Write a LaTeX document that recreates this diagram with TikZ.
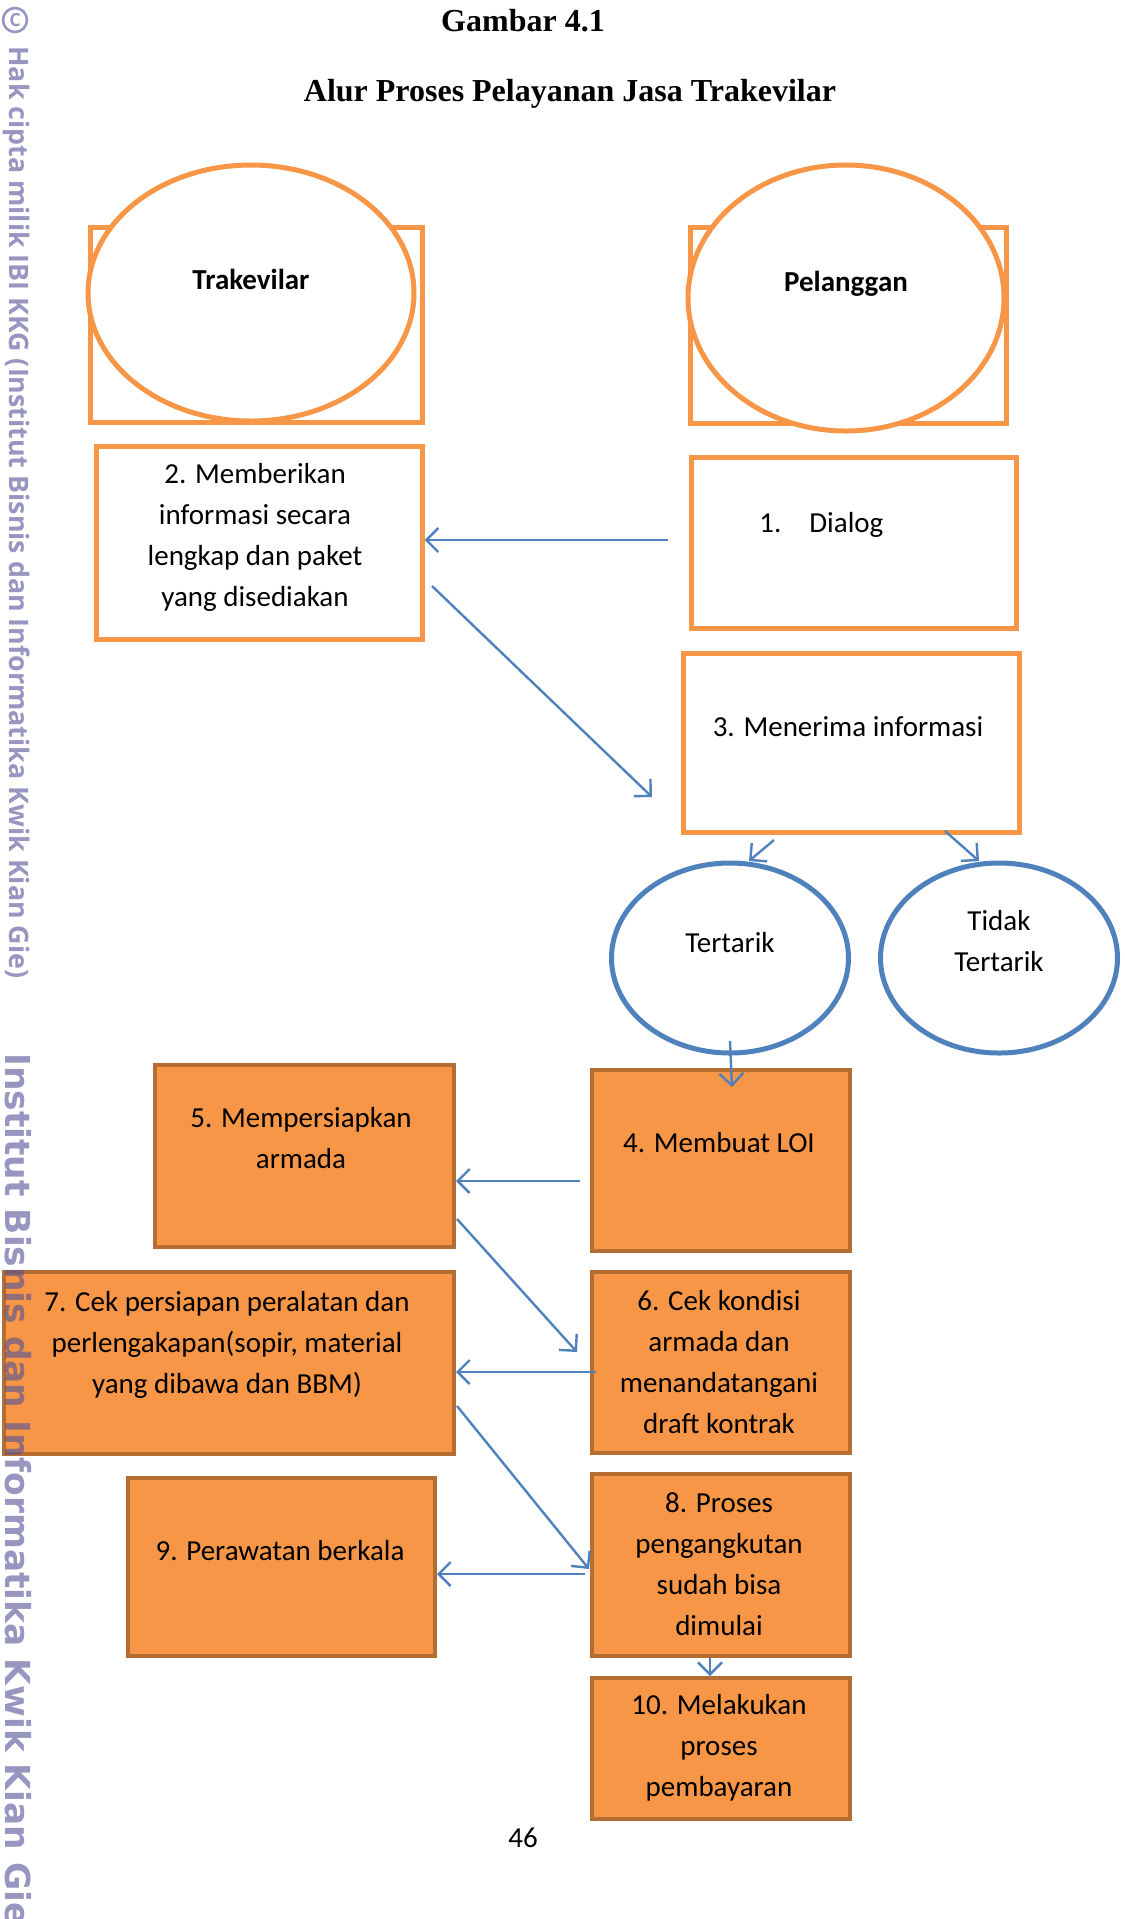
\documentclass[tikz,border=0pt]{standalone}
\usepackage{fontspec}
\setmainfont{Carlito}
\newfontfamily\serifb{Liberation Serif}
\newfontfamily\wmfont{Open Sans}
\newfontfamily\wmbold{DejaVu Sans}
\usetikzlibrary{arrows.meta,shapes.geometric}
\definecolor{org}{HTML}{F79646}
\definecolor{orgd}{HTML}{B66D31}
\definecolor{blu}{HTML}{4F81BD}
\definecolor{wm}{RGB}{80,80,150}
\begin{document}
\begin{tikzpicture}[x=0.5pt,y=-0.5pt,
  obox/.style={draw=org, line width=2.3pt, fill=white, inner sep=0pt, anchor=north west},
  fbox/.style={draw=orgd, line width=2pt, fill=org, inner sep=0pt, anchor=north west},
  oell/.style={ellipse, draw=org, line width=2.5pt, fill=white, inner sep=0pt},
  bell/.style={ellipse, draw=blu, line width=2.5pt, fill=white, inner sep=0pt},
  txt/.style={font=\fontsize{14.5}{20.5}\selectfont, align=center, inner sep=0pt},
  btxt/.style={font=\fontsize{14.5}{20.5}\selectfont\bfseries, inner sep=0pt},
  arr/.style={draw=blu, line width=1.2pt, -{Straight Barb[length=6pt,width=12pt,line width=1.2pt]}},
  wmstyle/.style={text=wm, text opacity=0.6, inner sep=0pt, rotate=-90, anchor=west},
]
\useasboundingbox (0,0) rectangle (1125,1919);

% titles
\node[font=\serifb\fontsize{16}{19}\selectfont\bfseries, inner sep=0pt] (g) at (523,21) {Gambar 4.1};
\node[font=\serifb\fontsize{16}{19}\selectfont\bfseries, inner sep=0pt] (tt) at (570,94) {Alur Proses Pelayanan Jasa Trakevilar};

% actors
\node[obox, line width=2.5pt, minimum width=166pt, minimum height=97.5pt] (r1) at (88,225) {};
\node[oell, minimum width=163pt, minimum height=128pt] (e1) at (251,293) {};
\node[btxt] (t1) at (251,279) {Trakevilar};
\node[obox, line width=2.5pt, minimum width=158pt, minimum height=98pt] (r2) at (688,225) {};
\node[oell, minimum width=158pt, minimum height=133pt] (e2) at (846,298) {};
\node[btxt] (t2) at (846,284) {Pelanggan};

% white boxes
\node[obox, minimum width=163pt, minimum height=96.5pt] (b2) at (94,444) {};
\node[txt] at (255,537) {2. Memberikan\\informasi secara\\lengkap dan paket\\yang disediakan};
\node[obox, minimum width=162.5pt, minimum height=85.5pt] (b1) at (689,455) {};
\node[txt, anchor=west] at (759,525) {1.\hspace{14pt}Dialog};
\node[obox, minimum width=168pt, minimum height=89.5pt] (b3) at (681,651) {};
\node[txt] at (848,727) {3. Menerima informasi};

% ellipses
\node[bell, minimum width=118.5pt, minimum height=95pt] (y1) at (730,958) {};
\node[txt] at (730,943) {Tertarik};
\node[bell, minimum width=118.5pt, minimum height=95pt] (n1) at (999,958) {};
\node[txt] at (999,941) {Tidak\\Tertarik};

% orange boxes
\node[fbox, minimum width=129pt, minimum height=90.5pt] (b4) at (590,1068) {};
\node[txt] at (719,1143) {4. Membuat LOI};
\node[fbox, minimum width=149.5pt, minimum height=91pt] (b5) at (153,1063) {};
\node[txt] at (301,1138) {5. Mempersiapkan\\armada};
\node[fbox, minimum width=129pt, minimum height=90.5pt] (b6) at (590,1270) {};
\node[txt] at (719,1362) {6. Cek kondisi\\armada dan\\menandatangani\\draft kontrak};
\node[fbox, minimum width=225pt, minimum height=91pt] (b7) at (2,1270) {};
\node[txt] at (227,1345) {7. Cek persiapan peralatan dan\\perlengakapan(sopir, material\\yang dibawa dan BBM)};
\node[fbox, minimum width=129pt, minimum height=91pt] (b8) at (590,1472) {};
\node[txt] at (719,1564) {8. Proses\\pengangkutan\\sudah bisa\\dimulai};
\node[fbox, minimum width=153.5pt, minimum height=89pt] (b9) at (126,1476) {};
\node[txt] at (280,1551) {9. Perawatan berkala};
\node[fbox, minimum width=129pt, minimum height=70.5pt] (b10) at (590,1676) {};
\node[txt] at (719,1748) {10. Melakukan\\proses\\pembayaran};

\node[txt] (pg) at (523,1838) {46};

% connector free ends
\coordinate (a1) at (668,540);
\coordinate (b1s) at (432,586);
\coordinate (b1e) at (652,797);
\coordinate (c1s) at (774,840);
\coordinate (c1e) at (749,861);
\coordinate (d1s) at (945,831);
\coordinate (d1e) at (979,861);
\coordinate (e1s) at (730,1041);
\coordinate (e1e) at (732,1087);
\coordinate (f1) at (580,1181);
\coordinate (g1s) at (457,1219);
\coordinate (g1e) at (577,1352);
\coordinate (h1) at (596,1372);
\coordinate (i1s) at (457,1406);
\coordinate (i1e) at (589,1569);
\coordinate (j1) at (585,1574);

\draw[arr] (a1) -- (b2.east |- a1);
\draw[arr] (b1s) -- (b1e);
\draw[arr] (c1s) -- (c1e);
\draw[arr] (d1s) -- (d1e);
\draw[arr] (e1s) -- (e1e);
\draw[arr] (f1) -- (b5.east |- f1);
\draw[arr] (g1s) -- (g1e);
\draw[arr] (h1) -- (b7.east |- h1);
\draw[arr] (i1s) -- (i1e);
\draw[arr] (j1) -- (b9.east |- j1);
\draw[arr] (b8.south -| 710,0) -- (b10.north -| 710,0);

% watermark
\node[circle, draw=wm, draw opacity=0.6, line width=1.3pt, text=wm, text opacity=0.6, inner sep=0pt, minimum size=12pt, font=\wmfont\bfseries\fontsize{9}{9}\selectfont] (wc) at (15,20) {C};
\node[wmstyle] (w1) at (17,46) {\resizebox{466pt}{!}{\wmfont\bfseries Hak cipta milik IBI KKG (Institut Bisnis dan Informatika Kwik Kian Gie)}};
\node[wmstyle] (w2) at (18,1053) {\resizebox{436pt}{!}{\wmbold\bfseries Institut Bisnis dan Informatika Kwik Kian Gie}};
\end{tikzpicture}
\end{document}
